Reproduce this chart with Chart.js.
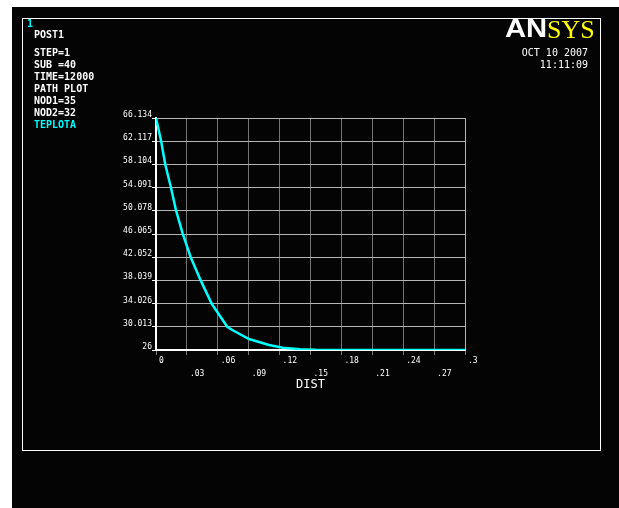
<!DOCTYPE html>
<html>
<head>
<meta charset="utf-8">
<script src="https://cdn.jsdelivr.net/npm/chart.js@4"></script>
<style>
  html, body { margin: 0; padding: 0; background: #ffffff; }
  #wrap { width: 619px; height: 508px; }
</style>
</head>
<body>
<div id="wrap"><canvas id="chartPath" width="619" height="508"></canvas></div>
<script>
/* ===================================
   ANSYS path plot - TEPLOTA vs DIST
   =================================== */

// Path data
const dist    = [0, 0.005, 0.009, 0.0145, 0.0195, 0.026, 0.0337, 0.0434, 0.054, 0.06, 0.0692, 0.0741, 0.0903, 0.1097, 0.123, 0.14, 0.155, 0.165, 0.3];
const teplota = [66.134, 62.1, 58.1, 54.1, 50.1, 46.1, 42.05, 38.04, 34.03, 32.45, 30.01, 29.46, 27.9, 26.87, 26.4, 26.15, 26.03, 26.0, 26.0];

// Axis ticks
const xTicks = [0, 0.03, 0.06, 0.09, 0.12, 0.15, 0.18, 0.21, 0.24, 0.27, 0.3];
const xTickLabels = ['0', '.03', '.06', '.09', '.12', '.15', '.18', '.21', '.24', '.27', '.3'];
const yTicks = [26, 30.013, 34.026, 38.039, 42.052, 46.065, 50.078, 54.091, 58.104, 62.117, 66.134];
const yTickLabels = ['26', '30.013', '34.026', '38.039', '42.052', '46.065', '50.078', '54.091', '58.104', '62.117', '66.134'];

// Header texts
const infoLines = ['STEP=1', 'SUB =40', 'TIME=12000', 'PATH PLOT', 'NOD1=35', 'NOD2=32'];
const dateLines = ['OCT 10 2007', '11:11:09'];

const MONO = '"DejaVu Sans Mono", "Liberation Mono", monospace';

// background, frame and header texts
const ansysFrame = {
  id: 'ansysFrame',
  beforeDraw(chart) {
    const ctx = chart.ctx;
    ctx.save();
    ctx.fillStyle = '#ffffff';
    ctx.fillRect(0, 0, chart.width, chart.height);
    ctx.fillStyle = '#040404';
    ctx.fillRect(12, 7, chart.width - 12, chart.height - 7);

    ctx.strokeStyle = '#ffffff';
    ctx.lineWidth = 1;
    ctx.strokeRect(22.5, 18.5, 578, 432);

    ctx.textBaseline = 'middle';
    ctx.textAlign = 'left';
    ctx.font = 'bold 10px ' + MONO;
    ctx.fillStyle = '#00ffff';
    ctx.fillText('1', 27, 24);
    ctx.fillStyle = '#ffffff';
    ctx.fillText('POST1', 34, 35);
    infoLines.forEach((t, i) => ctx.fillText(t, 34, 53 + i * 12));
    ctx.fillStyle = '#00ffff';
    ctx.fillText('TEPLOTA', 34, 125);

    ctx.fillStyle = '#ffffff';
    ctx.textAlign = 'right';
    ctx.font = '10px ' + MONO;
    ctx.fillText(dateLines[0], 588, 53);
    ctx.fillText(dateLines[1], 588, 65);

    // logo
    ctx.textAlign = 'left';
    ctx.textBaseline = 'alphabetic';
    ctx.save();
    ctx.translate(505, 37);
    ctx.scale(1.17, 1);
    ctx.font = 'bold 25px "Liberation Sans", Arial, sans-serif';
    ctx.fillStyle = '#ffffff';
    ctx.fillText('AN', 0, 0);
    ctx.restore();
    ctx.font = '26px "Liberation Serif", "Times New Roman", serif';
    ctx.fillStyle = '#ffff00';
    ctx.fillText('SYS', 547, 38);
    ctx.restore();
  }
};

const ctx = document.getElementById('chartPath').getContext('2d');

new Chart(ctx, {
  type: 'line',
  data: {
    datasets: [{
      label: 'TEPLOTA',
      data: dist.map((d, i) => ({ x: d, y: teplota[i] })),
      borderColor: '#00ffff',
      borderWidth: 2.5,
      pointRadius: 0,
      tension: 0,
      fill: false
    }]
  },
  options: {
    responsive: false,
    animation: false,
    devicePixelRatio: 1,
    layout: {
      padding: { left: 0, top: 118, right: 154, bottom: 0 }
    },
    plugins: {
      legend: { display: false },
      tooltip: { enabled: false }
    },
    scales: {
      x: {
        type: 'linear',
        min: 0,
        max: 0.3,
        afterBuildTicks: scale => { scale.ticks = xTicks.map(v => ({ value: v })); },
        afterFit: scale => {
          scale.height = 158;
          scale.paddingLeft = 0;
          scale.paddingRight = 0;
        },
        grid: {
          color: c => (c.index === xTicks.length - 1 ? '#b4b4b4' : '#747474'),
          lineWidth: 1,
          tickColor: '#7a7a7a',
          tickLength: 5
        },
        border: { color: '#ffffff', width: 2 },
        ticks: {
          autoSkip: false,
          maxRotation: 0,
          minRotation: 0,
          align: 'start',
          labelOffset: 3,
          padding: 0,
          color: '#ffffff',
          font: { family: MONO, size: 8, lineHeight: 1.55 },
          callback: (value, index) => (index % 2 === 0 ? [xTickLabels[index]] : ['', xTickLabels[index]])
        },
        title: {
          display: true,
          text: 'DIST',
          color: '#ffffff',
          font: { family: MONO, size: 12 },
          padding: { top: 0, bottom: 116 }
        }
      },
      y: {
        type: 'linear',
        min: 26,
        max: 66.134,
        afterBuildTicks: scale => { scale.ticks = yTicks.map(v => ({ value: v })); },
        afterFit: scale => {
          scale.width = 156;
          scale.paddingTop = 0;
          scale.paddingBottom = 0;
        },
        grid: {
          color: '#b4b4b4',
          lineWidth: 1,
          tickColor: '#ffffff',
          tickLength: 4
        },
        border: { color: '#ffffff', width: 2 },
        ticks: {
          autoSkip: false,
          labelOffset: -3,
          padding: 0,
          color: '#ffffff',
          font: { family: MONO, size: 8 },
          callback: (value, index) => yTickLabels[index]
        }
      }
    }
  },
  plugins: [ansysFrame]
});
</script>
</body>
</html>
